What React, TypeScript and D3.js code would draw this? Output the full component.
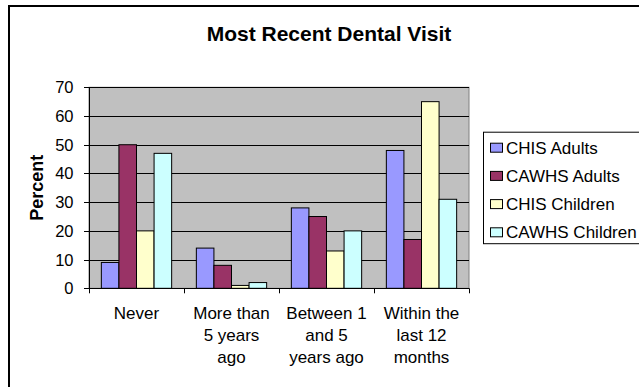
import React from "react";
import * as d3 from "d3";

// Survey categories (each label split into display lines)
const categories = ["Never", "More than 5 years ago", "Between 1 and 5 years ago", "Within the last 12 months"];
const categoryLines = [
  ["Never"],
  ["More than", "5 years", "ago"],
  ["Between 1", "and 5", "years ago"],
  ["Within the", "last 12", "months"],
];

const seriesNames = ["CHIS Adults", "CAWHS Adults", "CHIS Children", "CAWHS Children"];
const seriesColors = ["#9999FF", "#993366", "#FFFFCC", "#CCFFFF"];

// Percent per category, one array per series
const chisAdults = [9, 14, 28, 48];
const cawhsAdults = [50, 8, 25, 17];
const chisChildren = [20, 1, 13, 65];
const cawhsChildren = [47, 2, 20, 31];
const seriesValues = [chisAdults, cawhsAdults, chisChildren, cawhsChildren];

const yTicks = [0, 10, 20, 30, 40, 50, 60, 70];

const W = 639;
const H = 387;
const plot = { left: 89, right: 469, top: 87.3, bottom: 288.3 };
const FONT = "Arial, 'Liberation Sans', sans-serif";

export default function App() {
  const x0 = d3
    .scaleBand<string>()
    .domain(categories)
    .range([plot.left, plot.right])
    .paddingInner(0.26)
    .paddingOuter(0.13);
  const x1 = d3
    .scaleBand<string>()
    .domain(seriesNames)
    .range([0, x0.bandwidth()]);
  const y = d3.scaleLinear().domain([0, 70]).range([plot.bottom, plot.top]);

  const step = (plot.right - plot.left) / categories.length;
  const boundaries = d3.range(categories.length + 1).map((i) => plot.left + i * step);

  const legend = { x: 483, y: 131.7, rowH: 28.2 };

  return (
    <svg
      width={W}
      height={H}
      style={{ position: "absolute", left: 0, top: 0, background: "#fff" }}
      fontFamily={FONT}
    >
      {/* chart frame */}
      <rect x={9} y={6} width={W + 20} height={H + 20} fill="#fff" stroke="#000" strokeWidth={2} />

      <text x={329} y={40.5} textAnchor="middle" fontWeight="bold" fontSize={21} fill="#000">
        Most Recent Dental Visit
      </text>

      {/* plot area */}
      <rect
        x={plot.left}
        y={plot.top}
        width={plot.right - plot.left}
        height={plot.bottom - plot.top}
        fill="#C0C0C0"
        stroke="#808080"
        strokeWidth={1}
      />

      {/* gridlines */}
      {yTicks.slice(1).map((t) => (
        <line
          key={t}
          x1={plot.left}
          x2={plot.right}
          y1={Math.round(y(t)) + 0.5}
          y2={Math.round(y(t)) + 0.5}
          stroke="#000"
          strokeWidth={1}
        />
      ))}

      {/* bars */}
      {categories.map((c, ci) => (
        <g key={c}>
          {seriesNames.map((s, si) => {
            const v = seriesValues[si][ci];
            const bx = (x0(c) ?? 0) + (x1(s) ?? 0);
            return (
              <rect
                key={s}
                x={bx}
                y={y(v)}
                width={x1.bandwidth()}
                height={y(0) - y(v)}
                fill={seriesColors[si]}
                stroke="#000"
                strokeWidth={1}
              />
            );
          })}
        </g>
      ))}

      {/* y axis */}
      <line x1={plot.left + 0.5} x2={plot.left + 0.5} y1={plot.top} y2={plot.bottom} stroke="#000" />
      {yTicks.map((t) => (
        <g key={t}>
          <line x1={plot.left - 5} x2={plot.left} y1={Math.round(y(t)) + 0.5} y2={Math.round(y(t)) + 0.5} stroke="#000" />
          <text x={73.5} y={y(t)} dy="0.36em" textAnchor="end" fontSize={16.5} fill="#000">
            {t}
          </text>
        </g>
      ))}
      <text
        transform={`translate(43,${(plot.top + plot.bottom) / 2}) rotate(-90)`}
        textAnchor="middle"
        fontWeight="bold"
        fontSize={18}
        fill="#000"
      >
        Percent
      </text>

      {/* x axis */}
      <line x1={plot.left} x2={plot.right} y1={Math.round(plot.bottom) + 0.5} y2={Math.round(plot.bottom) + 0.5} stroke="#000" />
      {boundaries.map((bx, i) => (
        <line key={i} x1={Math.round(bx) + 0.5} x2={Math.round(bx) + 0.5} y1={plot.bottom} y2={plot.bottom + 5} stroke="#000" />
      ))}
      {categories.map((c, ci) => (
        <text key={c} textAnchor="middle" fontSize={17} fill="#000">
          {categoryLines[ci].map((ln, li) => (
            <tspan key={li} x={(x0(c) ?? 0) + x0.bandwidth() / 2} y={319.3 + li * 22}>
              {ln}
            </tspan>
          ))}
        </text>
      ))}

      {/* legend */}
      <rect x={legend.x + 0.5} y={legend.y + 0.5} width={200} height={111.5} fill="#fff" stroke="#000" strokeWidth={1} />
      {seriesNames.map((s, si) => {
        const cy = legend.y + 16 + si * legend.rowH;
        return (
          <g key={s}>
            <rect x={490.5} y={cy - 4.5} width={12} height={9} fill={seriesColors[si]} stroke="#000" strokeWidth={1} />
            <text x={506} y={cy} dy="0.36em" fontSize={17} fill="#000">
              {s}
            </text>
          </g>
        );
      })}
    </svg>
  );
}
